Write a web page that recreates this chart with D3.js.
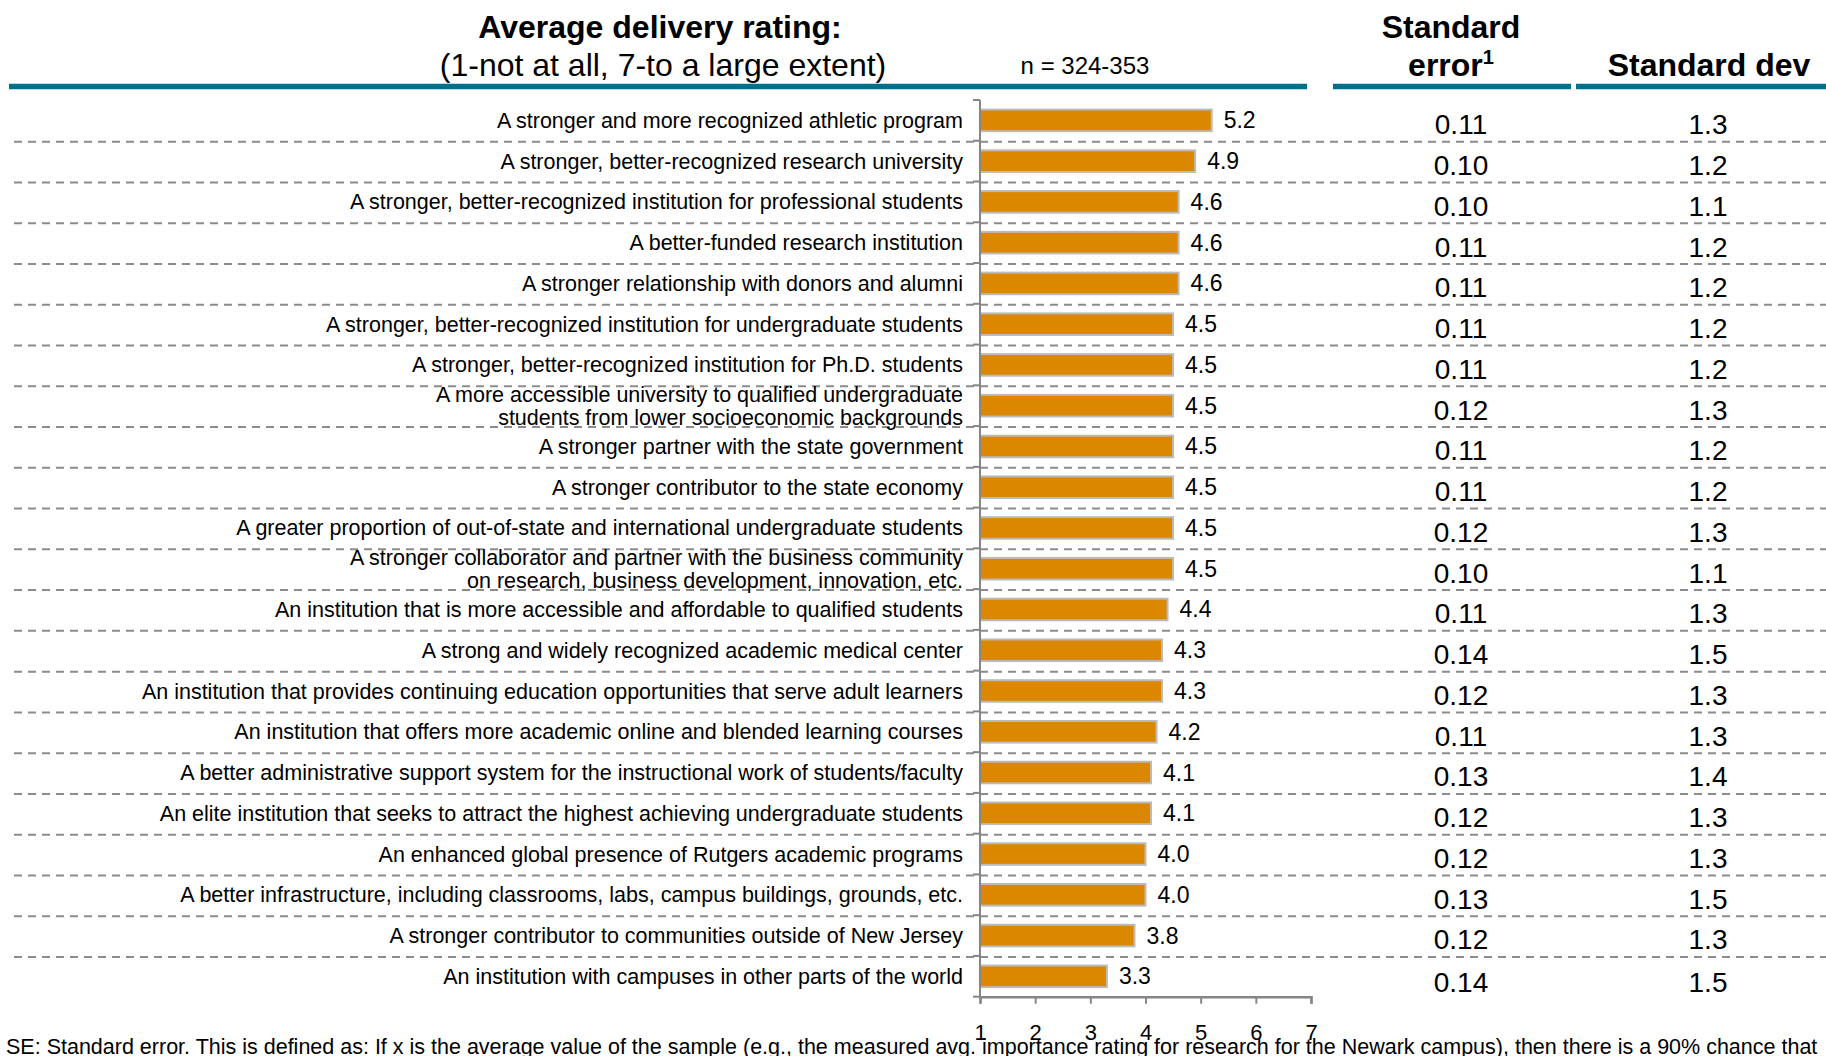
<!DOCTYPE html>
<html>
<head>
<meta charset="utf-8">
<script src="https://cdn.jsdelivr.net/npm/d3@7"></script>
<style>
  html, body { margin: 0; padding: 0; background: #fff; }
  svg { display: block; font-family: "Liberation Sans", Arial, sans-serif; }
</style>
</head>
<body>
<svg id="chart" width="1826" height="1056"></svg>
<script>
// Items rated, top to bottom ("\n" splits a label over two lines)
const categories = [
  "A stronger and more recognized athletic program",
  "A stronger, better-recognized research university",
  "A stronger, better-recognized institution for professional students",
  "A better-funded research institution",
  "A stronger relationship with donors and alumni",
  "A stronger, better-recognized institution for undergraduate students",
  "A stronger, better-recognized institution for Ph.D. students",
  "A more accessible university to qualified undergraduate\nstudents from lower socioeconomic backgrounds",
  "A stronger partner with the state government",
  "A stronger contributor to the state economy",
  "A greater proportion of out-of-state and international undergraduate students",
  "A stronger collaborator and partner with the business community\non research, business development, innovation, etc.",
  "An institution that is more accessible and affordable to qualified students",
  "A strong and widely recognized academic medical center",
  "An institution that provides continuing education opportunities that serve adult learners",
  "An institution that offers more academic online and blended learning courses",
  "A better administrative support system for the instructional work of students/faculty",
  "An elite institution that seeks to attract the highest achieving undergraduate students",
  "An enhanced global presence of Rutgers academic programs",
  "A better infrastructure, including classrooms, labs, campus buildings, grounds, etc.",
  "A stronger contributor to communities outside of New Jersey",
  "An institution with campuses in other parts of the world"
];

// Average delivery rating (1-7 scale)
const ratings = [5.2, 4.9, 4.6, 4.6, 4.6, 4.5, 4.5, 4.5, 4.5, 4.5, 4.5, 4.5,
                 4.4, 4.3, 4.3, 4.2, 4.1, 4.1, 4.0, 4.0, 3.8, 3.3];

// Standard error and standard deviation per item
const stdError = [0.11, 0.10, 0.10, 0.11, 0.11, 0.11, 0.11, 0.12, 0.11, 0.11, 0.12,
                  0.10, 0.11, 0.14, 0.12, 0.11, 0.13, 0.12, 0.12, 0.13, 0.12, 0.14];
const stdDev = [1.3, 1.2, 1.1, 1.2, 1.2, 1.2, 1.2, 1.3, 1.2, 1.2, 1.3,
                1.1, 1.3, 1.5, 1.3, 1.3, 1.4, 1.3, 1.3, 1.5, 1.3, 1.5];

// Axis ticks
const xTicks = [1, 2, 3, 4, 5, 6, 7];

const rows = categories.map((c, i) => ({
  label: c, rating: ratings[i], se: stdError[i], sd: stdDev[i]
}));

const svg = d3.select("#chart");

const TEAL = "#006F8A";
const BAR = "#DB8700";
const GRID = "#8C8C8C";
const AXIS = "#868686";

const x = d3.scaleLinear().domain([1, 7]).range([980, 1311]);
const y = d3.scaleBand().domain(categories).range([100, 996.7])
  .paddingInner(0.47).paddingOuter(0.235);
const rowStep = y.step();
// top of the row that holds a category (band start minus half the inner gap)
const rowStart = d => y(d) - y.paddingInner() * rowStep / 2;

// ---- Column headers ----
const hdr = svg.append("g").attr("fill", "#000");
hdr.append("text").attr("x", 660).attr("y", 38).attr("text-anchor", "middle")
  .attr("font-size", 32).attr("font-weight", "bold").text("Average delivery rating:");
hdr.append("text").attr("x", 663).attr("y", 76).attr("text-anchor", "middle")
  .attr("font-size", 32).text("(1-not at all, 7-to a large extent)");
hdr.append("text").attr("x", 1085).attr("y", 74).attr("text-anchor", "middle")
  .attr("font-size", 24).text("n = 324-353");
hdr.append("text").attr("x", 1451).attr("y", 38).attr("text-anchor", "middle")
  .attr("font-size", 32).attr("font-weight", "bold").text("Standard");
const errT = hdr.append("text").attr("x", 1451).attr("y", 76).attr("text-anchor", "middle")
  .attr("font-size", 32).attr("font-weight", "bold");
errT.append("tspan").text("error");
errT.append("tspan").attr("font-size", 20).attr("dy", -12).text("1");
hdr.append("text").attr("x", 1709).attr("y", 76).attr("text-anchor", "middle")
  .attr("font-size", 32).attr("font-weight", "bold").text("Standard dev");

// Teal rules under the headers
const rules = [[9, 1307], [1333, 1571], [1576, 1826]];
svg.append("g").selectAll("line").data(rules).join("line")
  .attr("x1", d => d[0]).attr("x2", d => d[1])
  .attr("y1", 86.5).attr("y2", 86.5)
  .attr("stroke", TEAL).attr("stroke-width", 5.5);

// ---- Dashed row separators ----
svg.append("g").selectAll("line").data(categories.slice(1)).join("line")
  .attr("x1", 14).attr("x2", 1826)
  .attr("y1", d => rowStart(d) + 1).attr("y2", d => rowStart(d) + 1)
  .attr("stroke", GRID).attr("stroke-width", 2).attr("stroke-dasharray", "8,6");

// ---- Bars ----
svg.append("g").selectAll("rect").data(rows).join("rect")
  .attr("x", x(1))
  .attr("y", d => y(d.label))
  .attr("width", d => x(d.rating) - x(1))
  .attr("height", y.bandwidth())
  .attr("fill", BAR)
  .attr("stroke", "#BBBBBB").attr("stroke-width", 2);

// Bar value labels
svg.append("g").selectAll("text").data(rows).join("text")
  .attr("x", d => x(d.rating) + 12)
  .attr("y", d => y(d.label) + y.bandwidth() / 2 + 8)
  .attr("font-size", 23).attr("fill", "#000")
  .text(d => d.rating.toFixed(1));

// Category labels, right-aligned against the axis
const lab = svg.append("g").selectAll("text").data(rows).join("text")
  .attr("x", 963)
  .attr("text-anchor", "end")
  .attr("font-size", 21.5).attr("fill", "#000")
  .attr("y", d => {
    const n = d.label.split("\n").length;
    return y(d.label) + y.bandwidth() / 2 + 7.5 - (n - 1) * 11.5;
  });
lab.selectAll("tspan").data(d => d.label.split("\n")).join("tspan")
  .attr("x", 963).attr("dy", (d, i) => i === 0 ? 0 : 23).text(d => d);

// ---- Y axis (category boundaries) ----
const yAxisG = svg.append("g");
yAxisG.append("line").attr("x1", x(1)).attr("x2", x(1))
  .attr("y1", y.range()[0]).attr("y2", y.range()[1])
  .attr("stroke", AXIS).attr("stroke-width", 2);
const bounds = categories.map(rowStart).concat([y.range()[1]]);
bounds[0] = y.range()[0];
yAxisG.selectAll("line.tick").data(bounds).join("line").attr("class", "tick")
  .attr("x1", x(1) - 7).attr("x2", x(1))
  .attr("y1", d => d).attr("y2", d => d)
  .attr("stroke", AXIS).attr("stroke-width", 2);

// ---- X axis ----
const xAxis = d3.axisBottom(x).tickValues(xTicks).tickSize(7).tickPadding(21)
  .tickFormat(d3.format("d"));
const xg = svg.append("g").attr("transform", `translate(0,${y.range()[1]})`).call(xAxis);
xg.select(".domain").attr("stroke", AXIS).attr("stroke-width", 2.5);
xg.selectAll(".tick line").attr("stroke", AXIS).attr("stroke-width", 2);
xg.selectAll(".tick text").attr("font-size", 22).attr("fill", "#000")
  .attr("font-family", "Liberation Sans, Arial, sans-serif");

// ---- Table columns: standard error and standard deviation ----
const rowEnd = i => i < categories.length - 1 ? rowStart(categories[i + 1]) + 1 : y.range()[1] + 3;
svg.append("g").selectAll("text").data(rows).join("text")
  .attr("x", 1461).attr("y", (d, i) => rowEnd(i) - 7.5)
  .attr("text-anchor", "middle").attr("font-size", 28).attr("fill", "#000")
  .text(d => d.se.toFixed(2));
svg.append("g").selectAll("text").data(rows).join("text")
  .attr("x", 1708).attr("y", (d, i) => rowEnd(i) - 7.5)
  .attr("text-anchor", "middle").attr("font-size", 28).attr("fill", "#000")
  .text(d => d.sd.toFixed(1));

// ---- Footnote ----
svg.append("text").attr("x", 6).attr("y", 1054)
  .attr("font-size", 21.5).attr("fill", "#000")
  .text("SE: Standard error. This is defined as: If x is the average value of the sample (e.g., the measured avg. importance rating for research for the Newark campus), then there is a 90% chance that");
</script>
</body>
</html>
